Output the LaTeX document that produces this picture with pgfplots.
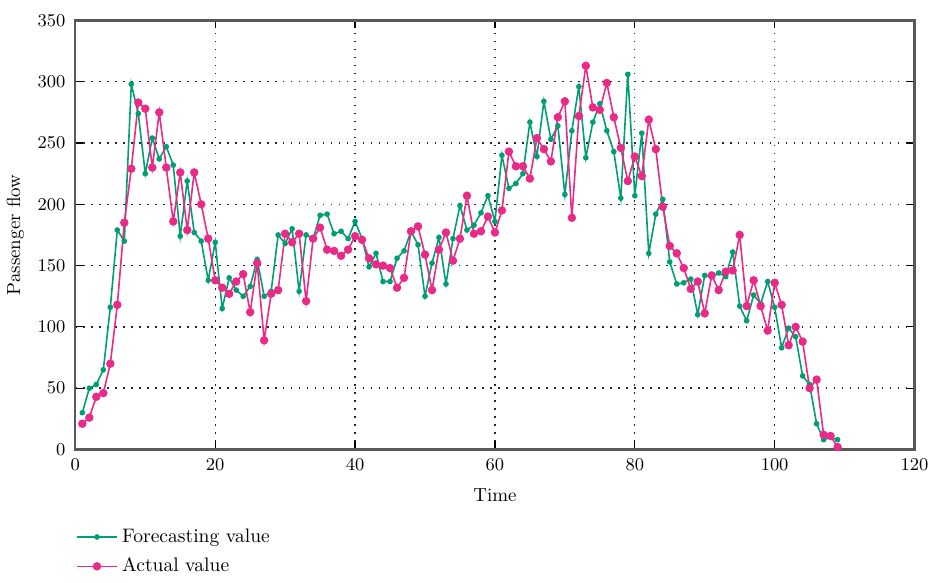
\documentclass[border=0pt]{standalone}
\usepackage{pgfplots}
\pgfplotsset{compat=1.18}
\definecolor{fgreen}{RGB}{0,158,115}
\definecolor{apink}{RGB}{233,42,137}
\begin{document}
\begin{tikzpicture}
\begin{axis}[
  scale only axis,
  width=420.5pt, height=215pt,
  xmin=0, xmax=120, ymin=0, ymax=350,
  xtick={0,20,...,120}, ytick={0,50,...,350},
  tick align=inside,
  major tick length=4pt,
  grid=major,
  major grid style={black!85, dash pattern=on 0.8pt off 3.2pt, line width=0.7pt},
  axis line style={black!65, line width=1.1pt},
  tick style={black, line width=0.6pt},
  font=\fontsize{9.5}{11}\selectfont,
  xticklabel style={yshift=-1pt},
  yticklabel style={xshift=-1.5pt},
  xlabel={Time}, ylabel={Passenger flow},
  xlabel style={yshift=-2.5pt},
  ylabel style={yshift=-0pt},
  legend style={at={(rel axis cs:0,0)}, anchor=north west, yshift=-35.5pt, xshift=-3pt,
    draw=none, fill=none, font=\fontsize{9.8}{11}\selectfont, row sep=2.3pt},
  legend cell align=left,
  legend image code/.code={\draw[mark repeat=2,mark phase=2] plot coordinates {(0cm,0cm)(0.36cm,0cm)(0.72cm,0cm)};},
]
\addplot[fgreen, line width=0.8pt, mark=*, mark size=1.0pt] coordinates {
(1,30)(2,50)(3,53)(4,65)(5,116)(6,179)(7,170)(8,298)(9,274)(10,225)
(11,254)(12,237)(13,247)(14,232)(15,174)(16,219)(17,177)(18,170)(19,138)(20,169)
(21,115)(22,140)(23,130)(24,125)(25,133)(26,155)(27,125)(28,129)(29,175)(30,168)
(31,180)(32,129)(33,175)(34,172)(35,191)(36,192)(37,176)(38,178)(39,172)(40,186)
(41,172)(42,149)(43,160)(44,137)(45,137)(46,156)(47,162)(48,178)(49,167)(50,125)
(51,152)(52,173)(53,135)(54,172)(55,199)(56,179)(57,183)(58,193)(59,207)(60,186)
(61,240)(62,213)(63,217)(64,225)(65,267)(66,239)(67,284)(68,253)(69,264)(70,208)
(71,260)(72,296)(73,238)(74,267)(75,282)(76,260)(77,243)(78,205)(79,306)(80,207)
(81,258)(82,160)(83,192)(84,204)(85,153)(86,135)(87,136)(88,139)(89,110)(90,142)
(91,141)(92,144)(93,141)(94,161)(95,117)(96,105)(97,126)(98,119)(99,137)(100,116)
(101,83)(102,99)(103,92)(104,60)(105,53)(106,21)(107,8)(108,10)(109,8)
};
\addlegendentry{Forecasting value}
\addplot[apink, line width=0.8pt, mark=*, mark size=1.7pt] coordinates {
(1,21)(2,26)(3,43)(4,46)(5,70)(6,118)(7,185)(8,229)(9,283)(10,278)
(11,230)(12,275)(13,230)(14,186)(15,226)(16,179)(17,226)(18,200)(19,172)(20,138)
(21,132)(22,127)(23,137)(24,143)(25,112)(26,152)(27,89)(28,127)(29,130)(30,176)
(31,169)(32,176)(33,121)(34,172)(35,181)(36,163)(37,162)(38,158)(39,163)(40,174)
(41,171)(42,156)(43,151)(44,150)(45,148)(46,132)(47,140)(48,178)(49,182)(50,159)
(51,130)(52,163)(53,177)(54,154)(55,172)(56,207)(57,176)(58,178)(59,190)(60,177)
(61,195)(62,243)(63,231)(64,231)(65,221)(66,254)(67,245)(68,235)(69,271)(70,284)
(71,189)(72,272)(73,313)(74,279)(75,277)(76,299)(77,271)(78,246)(79,219)(80,239)
(81,223)(82,269)(83,245)(84,198)(85,166)(86,160)(87,148)(88,131)(89,137)(90,111)
(91,142)(92,130)(93,145)(94,146)(95,175)(96,117)(97,138)(98,117)(99,97)(100,136)
(101,118)(102,85)(103,100)(104,88)(105,50)(106,57)(107,12)(108,11)(109,2)
};
\addlegendentry{Actual value}
\end{axis}
\path ([yshift=4pt]current axis.outer north);
\end{tikzpicture}
\end{document}
